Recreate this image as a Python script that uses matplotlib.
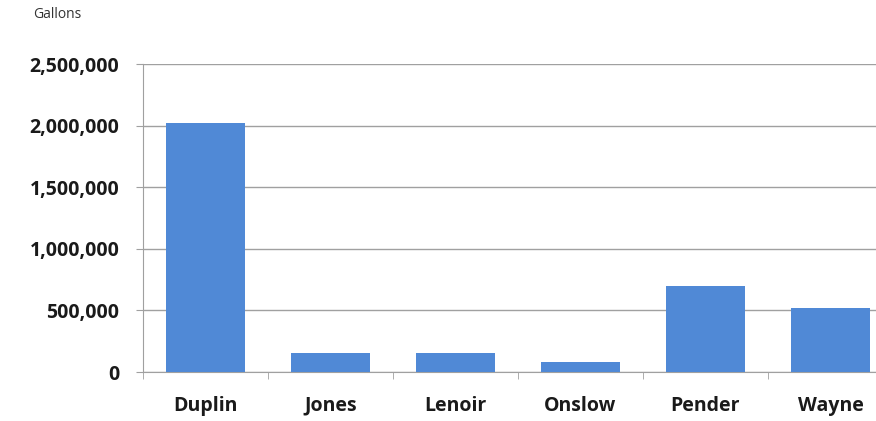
import matplotlib.pyplot as plt
from matplotlib.ticker import FuncFormatter

counties = ["Duplin", "Jones", "Lenoir", "Onslow", "Pender", "Wayne"]
gallons = [2020000, 155000, 155000, 82000, 698000, 520000]
y_ticks = [0, 500000, 1000000, 1500000, 2000000, 2500000]

BAR = "#5089d6"
GRID = "#a0a0a0"

plt.rcParams["font.family"] = ["Open Sans", "DejaVu Sans"]

fig = plt.figure(figsize=(8.76, 4.21), dpi=100)
ax = fig.add_axes([143 / 876, 1 - 372 / 421, 750 / 876, 308 / 421])

x = range(len(counties))
ax.bar(x, gallons, width=0.63, color=BAR, zorder=3)

ax.set_xlim(-0.5, len(counties) - 0.5)
ax.set_ylim(0, 2500000)
ax.set_yticks(y_ticks)
ax.yaxis.set_major_formatter(FuncFormatter(lambda v, p: f"{int(v):,}"))
ax.set_xticks(list(x))
ax.set_xticklabels(counties)
ax.set_xticks([i - 0.5 for i in range(len(counties) + 1)], minor=True)

ax.grid(axis="y", color=GRID, linewidth=1, zorder=0)
for s in ["top", "right"]:
    ax.spines[s].set_visible(False)
ax.spines["left"].set_color(GRID)
ax.spines["bottom"].set_color(GRID)

ax.tick_params(axis="y", length=5, color=GRID, labelsize=14, pad=12,
               labelcolor="#1a1a1a")
ax.tick_params(axis="x", which="major", length=0, labelsize=14, pad=17,
               labelcolor="#1a1a1a")
ax.tick_params(axis="x", which="minor", length=5, color=GRID)
for lab in ax.get_yticklabels() + ax.get_xticklabels():
    lab.set_fontweight("bold")

fig.text(33 / 876, 1 - 15 / 421, "Gallons", fontsize=10, color="#333333",
         va="center", ha="left")

fig.savefig("out.png", dpi=100)
